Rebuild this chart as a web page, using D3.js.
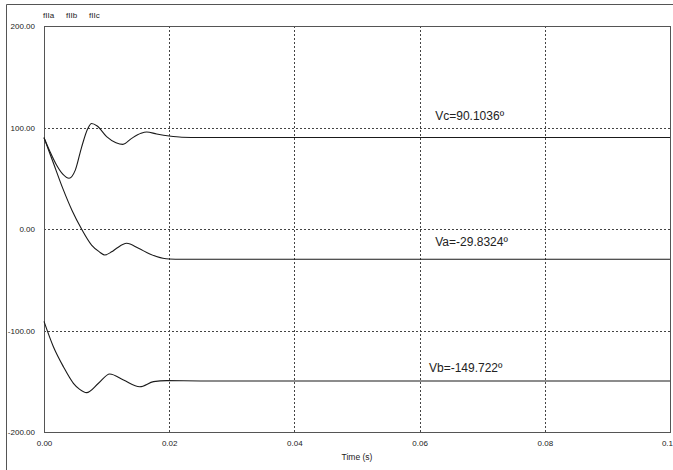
<!DOCTYPE html>
<html>
<head>
<meta charset="utf-8">
<script src="https://cdn.jsdelivr.net/npm/d3@7"></script>
<style>
  html, body { margin: 0; padding: 0; background: #fff; }
  svg { display: block; }
  text { font-family: "Liberation Sans", Arial, sans-serif; fill: #222; }
</style>
</head>
<body>
<svg id="chart" width="673" height="470"></svg>
<script>
// ---- data ----
const seriesNames = ["fIIa", "fIIb", "fIIc"];
const xTicks = [0, 0.02, 0.04, 0.06, 0.08, 0.1];
const xTickLabels = ["0.00", "0.02", "0.04", "0.06", "0.08", "0.1"];
const yTicks = [200, 100, 0, -100, -200];
const yTickLabels = ["200.00", "100.00", "0.00", "-100.00", "-200.00"];

const tA = [0, 0.0015, 0.003, 0.0045, 0.006, 0.0076, 0.0088, 0.0097, 0.0108, 0.0116, 0.0132, 0.0151, 0.0169, 0.019, 0.020, 0.022, 0.1];
const vA = [90, 65, 40, 18, 0, -15.8, -22.3, -25.6, -22.5, -19, -14.1, -19, -24.6, -28.9, -29.6, -29.83, -29.83];

const tB = [0, 0.0015, 0.0031, 0.0047, 0.0057, 0.0068, 0.0087, 0.0105, 0.0127, 0.0153, 0.0175, 0.0196, 0.025, 0.1];
const vB = [-91, -116, -135.7, -152, -158, -161.2, -152, -142.9, -148.8, -155.4, -150.4, -149.4, -149.7, -149.72];

const tC = [0, 0.001, 0.002, 0.003, 0.004, 0.005, 0.006, 0.007, 0.0076, 0.0085, 0.010, 0.0115, 0.0126, 0.014, 0.0155, 0.0164, 0.018, 0.020, 0.022, 0.025, 0.1];
const vC = [90, 75.6, 63, 54, 50, 58, 80.5, 99, 104, 101.5, 91, 85, 83.4, 89.3, 94.3, 95.6, 93.6, 91.6, 90.4, 90.1, 90.1];

const labels = ["Vc=90.1036º", "Va=-29.8324º", "Vb=-149.722º"];
const labelAnchors = [[0.0625, 107], [0.0625, -17], [0.0615, -141]]; // [time, value] placement

// ---- layout ----
const svg = d3.select("#chart");
const L = 44, R = 670, T = 26, B = 432;
const x = d3.scaleLinear().domain([0, 0.1]).range([L, R]);
const y = d3.scaleLinear().domain([-200, 200]).range([B, T]);

// outer frame
svg.append("path").attr("d", `M6.5,470 V4.5 H673`).attr("fill", "none").attr("stroke", "#555").attr("stroke-width", 1);

// grid
const grid = svg.append("g");
xTicks.filter(d => d > 0 && d < 0.1).forEach(d => {
  grid.append("line").attr("x1", Math.round(x(d)) + 0.5).attr("x2", Math.round(x(d)) + 0.5)
    .attr("y1", T).attr("y2", B).attr("stroke", "#444").attr("stroke-dasharray", "2,2");
});
yTicks.filter(d => d > -200 && d < 200).forEach(d => {
  grid.append("line").attr("y1", Math.round(y(d)) + 0.5).attr("y2", Math.round(y(d)) + 0.5)
    .attr("x1", L).attr("x2", R).attr("stroke", "#444").attr("stroke-dasharray", "2,2");
});

// plot frame
svg.append("rect").attr("x", L + 0.5).attr("y", T + 0.5).attr("width", R - L).attr("height", B - T)
  .attr("fill", "none").attr("stroke", "#555").attr("stroke-width", 1);

// axes tick labels
const yAxis = d3.axisLeft(y).tickValues(yTicks).tickSize(0).tickFormat((d, i) => yTickLabels[i]);
const gy = svg.append("g").attr("transform", `translate(${L - 6},0)`).call(yAxis);
gy.select(".domain").remove();
gy.selectAll("text").attr("font-size", "8px").attr("font-family", "Liberation Sans, Arial, sans-serif").attr("fill", "#222");

const xAxis = d3.axisBottom(x).tickValues(xTicks).tickSize(0).tickFormat((d, i) => xTickLabels[i]);
const gx = svg.append("g").attr("transform", `translate(0,${B + 5})`).call(xAxis);
gx.select(".domain").remove();
gx.selectAll("text").attr("font-size", "8px").attr("font-family", "Liberation Sans, Arial, sans-serif").attr("fill", "#222");
gx.selectAll("text").filter(d => d === 0.1).attr("text-anchor", "end").attr("dx", "2.5");

svg.append("text").attr("x", (L + R) / 2).attr("y", 460).attr("text-anchor", "middle")
  .attr("font-size", "8.5px").text("Time (s)");

// legend names
const legX = [43, 66, 89];
seriesNames.forEach((n, i) => {
  svg.append("text").attr("x", legX[i]).attr("y", 18).attr("font-size", "8px").text(n);
});

// curves
const line = d3.line().x(d => x(d[0])).y(d => y(d[1])).curve(d3.curveMonotoneX);
[[tA, vA], [tB, vB], [tC, vC]].forEach(([t, v]) => {
  svg.append("path").datum(t.map((tt, i) => [tt, v[i]]))
    .attr("d", line).attr("fill", "none").attr("stroke", "#1a1a1a").attr("stroke-width", 1.1);
});

// annotations
labels.forEach((s, i) => {
  svg.append("text").attr("x", x(labelAnchors[i][0])).attr("y", y(labelAnchors[i][1]))
    .attr("font-size", "12px").attr("fill", "#2a2a2a").text(s);
});
</script>
</body>
</html>
